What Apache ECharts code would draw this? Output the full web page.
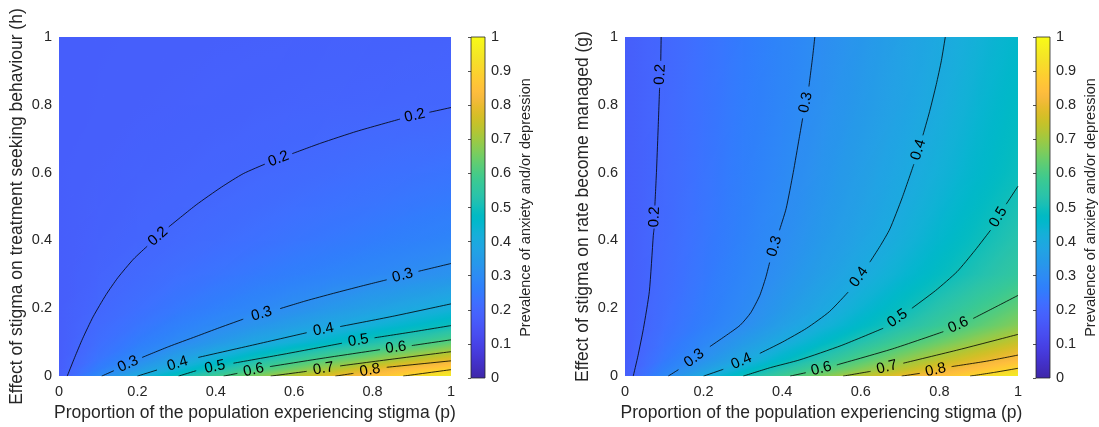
<!DOCTYPE html>
<html>
<head>
<meta charset="utf-8">
<script src="https://cdn.jsdelivr.net/npm/echarts@6/dist/echarts.min.js"></script>
<style>
  html, body { margin: 0; padding: 0; background: #fff; }
  #chart { width: 1099px; height: 427px; }
</style>
</head>
<body>
<div id="chart"></div>
<script>
// sample grid (p across, h or g up)
const pValues = [0, 0.1, 0.2, 0.3, 0.4, 0.5, 0.6, 0.7, 0.8, 0.9, 1];
const yValues = [0, 0.02, 0.05, 0.1, 0.15, 0.2, 0.3, 0.4, 0.5, 0.6, 0.8, 1];

// prevalence, left panel (rows = h)
const prevalenceH = [
    [0.176, 0.290, 0.400, 0.495, 0.583, 0.664, 0.732, 0.792, 0.851, 0.913, 0.960],
    [0.176, 0.259, 0.344, 0.430, 0.511, 0.589, 0.655, 0.721, 0.790, 0.849, 0.898],
    [0.176, 0.236, 0.294, 0.365, 0.435, 0.501, 0.563, 0.621, 0.673, 0.726, 0.780],
    [0.176, 0.218, 0.256, 0.294, 0.338, 0.383, 0.427, 0.470, 0.516, 0.568, 0.620],
    [0.176, 0.208, 0.236, 0.265, 0.293, 0.325, 0.357, 0.390, 0.424, 0.459, 0.493],
    [0.176, 0.201, 0.222, 0.244, 0.265, 0.287, 0.310, 0.337, 0.365, 0.392, 0.419],
    [0.176, 0.192, 0.207, 0.221, 0.234, 0.248, 0.262, 0.276, 0.290, 0.305, 0.322],
    [0.176, 0.186, 0.196, 0.205, 0.215, 0.225, 0.236, 0.247, 0.257, 0.268, 0.280],
    [0.176, 0.183, 0.190, 0.196, 0.204, 0.212, 0.221, 0.229, 0.237, 0.246, 0.255],
    [0.176, 0.181, 0.186, 0.190, 0.195, 0.201, 0.208, 0.215, 0.222, 0.228, 0.235],
    [0.176, 0.178, 0.180, 0.182, 0.185, 0.187, 0.190, 0.192, 0.194, 0.197, 0.199],
    [0.176, 0.177, 0.178, 0.179, 0.180, 0.181, 0.182, 0.183, 0.184, 0.185, 0.186]
];

// prevalence, right panel (rows = g)
const prevalenceG = [
    [0.176, 0.290, 0.400, 0.495, 0.583, 0.664, 0.732, 0.792, 0.851, 0.913, 0.960],
    [0.176, 0.268, 0.357, 0.445, 0.531, 0.606, 0.669, 0.731, 0.794, 0.853, 0.910],
    [0.176, 0.246, 0.315, 0.389, 0.463, 0.536, 0.606, 0.671, 0.729, 0.782, 0.834],
    [0.176, 0.231, 0.284, 0.342, 0.402, 0.463, 0.525, 0.588, 0.642, 0.695, 0.747],
    [0.176, 0.221, 0.262, 0.304, 0.360, 0.415, 0.467, 0.518, 0.571, 0.623, 0.672],
    [0.176, 0.217, 0.255, 0.292, 0.339, 0.388, 0.437, 0.485, 0.534, 0.583, 0.632],
    [0.176, 0.211, 0.245, 0.280, 0.316, 0.358, 0.399, 0.439, 0.480, 0.520, 0.560],
    [0.176, 0.208, 0.240, 0.272, 0.304, 0.341, 0.378, 0.415, 0.454, 0.493, 0.532],
    [0.176, 0.206, 0.236, 0.267, 0.297, 0.331, 0.365, 0.400, 0.437, 0.474, 0.511],
    [0.176, 0.205, 0.234, 0.263, 0.292, 0.324, 0.357, 0.390, 0.423, 0.458, 0.492],
    [0.176, 0.203, 0.230, 0.257, 0.283, 0.312, 0.342, 0.373, 0.404, 0.440, 0.475],
    [0.176, 0.2015, 0.227, 0.253, 0.279, 0.305, 0.333, 0.365, 0.395, 0.426, 0.457]
];

// contour lines [p, y], split where the inline labels sit
const contoursH = [
    { level: 0.2, segments: [
        [[0.021, 0], [0.04, 0.055], [0.06, 0.11], [0.087, 0.175], [0.12, 0.24], [0.15, 0.29], [0.19, 0.345], [0.225, 0.383]],
        [[0.28, 0.44], [0.35, 0.505], [0.414, 0.557], [0.47, 0.597], [0.525, 0.625]],
        [[0.595, 0.656], [0.668, 0.687], [0.76, 0.722], [0.87, 0.758]],
        [[0.945, 0.778], [1, 0.792]]
    ] },
    { level: 0.3, segments: [
        [[0.109, 0], [0.14, 0.016]],
        [[0.212, 0.055], [0.28, 0.087], [0.35, 0.117], [0.41, 0.143], [0.47, 0.168]],
        [[0.564, 0.199], [0.63, 0.222], [0.7, 0.244], [0.77, 0.265], [0.836, 0.284]],
        [[0.917, 0.309], [1, 0.332]]
    ] },
    { level: 0.4, segments: [
        [[0.2, 0], [0.25, 0.018]],
        [[0.355, 0.055], [0.5, 0.093], [0.632, 0.128]],
        [[0.717, 0.146], [0.85, 0.176], [1, 0.213]]
    ] },
    { level: 0.5, segments: [
        [[0.305, 0], [0.35, 0.016]],
        [[0.445, 0.038], [0.58, 0.066], [0.722, 0.097]],
        [[0.805, 0.113], [0.9, 0.13], [1, 0.149]]
    ] },
    { level: 0.6, segments: [
        [[0.42, 0], [0.455, 0.008]],
        [[0.538, 0.028], [0.68, 0.054], [0.819, 0.078]],
        [[0.9, 0.09], [1, 0.107]]
    ] },
    { level: 0.7, segments: [
        [[0.54, 0], [0.632, 0.014]],
        [[0.717, 0.03], [0.85, 0.05], [1, 0.072]]
    ] },
    { level: 0.8, segments: [
        [[0.705, 0], [0.751, 0.008]],
        [[0.836, 0.026], [1, 0.045]]
    ] },
    { level: 0.9, segments: [
        [[0.878, 0], [1, 0.019]]
    ] }
];

const contoursG = [
    { level: 0.2, segments: [
        [[0.021, 0], [0.033, 0.06], [0.047, 0.141], [0.062, 0.25], [0.072, 0.414], [0.074, 0.435]],
        [[0.076, 0.503], [0.08, 0.6], [0.084, 0.72], [0.088, 0.85]],
        [[0.091, 0.93], [0.092, 1]]
    ] },
    { level: 0.3, segments: [
        [[0.11, 0], [0.136, 0.019]],
        [[0.216, 0.087], [0.255, 0.118], [0.293, 0.15], [0.32, 0.187], [0.343, 0.238], [0.358, 0.29], [0.368, 0.335]],
        [[0.393, 0.43], [0.41, 0.494], [0.428, 0.6], [0.443, 0.7], [0.452, 0.76]],
        [[0.468, 0.854], [0.478, 0.947], [0.483, 1]]
    ] },
    { level: 0.4, segments: [
        [[0.2, 0], [0.25, 0.02]],
        [[0.343, 0.067], [0.4, 0.1], [0.462, 0.141], [0.52, 0.19], [0.568, 0.248]],
        [[0.623, 0.336], [0.65, 0.385], [0.674, 0.434], [0.705, 0.525], [0.735, 0.625]],
        [[0.758, 0.71], [0.775, 0.78], [0.792, 0.86], [0.805, 0.93], [0.815, 1]]
    ] },
    { level: 0.5, segments: [
        [[0.301, 0], [0.37, 0.025], [0.445, 0.048], [0.55, 0.09], [0.657, 0.141]],
        [[0.73, 0.2], [0.79, 0.252], [0.845, 0.308], [0.89, 0.37], [0.93, 0.43]],
        [[0.97, 0.507], [1, 0.56]]
    ] },
    { level: 0.6, segments: [
        [[0.42, 0], [0.46, 0.01]],
        [[0.539, 0.033], [0.68, 0.08], [0.81, 0.131]],
        [[0.886, 0.17], [0.95, 0.208], [1, 0.238]]
    ] },
    { level: 0.7, segments: [
        [[0.555, 0], [0.625, 0.014]],
        [[0.708, 0.038], [0.85, 0.078], [1, 0.123]]
    ] },
    { level: 0.8, segments: [
        [[0.704, 0], [0.75, 0.008]],
        [[0.831, 0.028], [0.92, 0.044], [1, 0.062]]
    ] },
    { level: 0.9, segments: [
        [[0.878, 0], [0.94, 0.011], [1, 0.023]]
    ] }
];

const axisTicks = [0, 0.2, 0.4, 0.6, 0.8, 1];
const colorbarTicks = [0, 0.1, 0.2, 0.3, 0.4, 0.5, 0.6, 0.7, 0.8, 0.9, 1];
const colorbarRange = [0, 1];

const xTitle = 'Proportion of the population experiencing stigma (p)';
const yTitleH = 'Effect of stigma on treatment seeking behaviour (h)';
const yTitleG = 'Effect of stigma on rate become managed (g)';
const cbTitle = 'Prevalence of anxiety and/or depression';

// parula colormap
const parula = [
    [0.2422,0.1504,0.6603],[0.2504,0.1650,0.7076],[0.2578,0.1818,0.7511],[0.2647,0.1978,0.7952],
    [0.2706,0.2147,0.8364],[0.2751,0.2342,0.8710],[0.2783,0.2559,0.8991],[0.2803,0.2782,0.9221],
    [0.2813,0.3006,0.9414],[0.2810,0.3228,0.9579],[0.2795,0.3447,0.9717],[0.2760,0.3667,0.9829],
    [0.2699,0.3892,0.9906],[0.2602,0.4123,0.9952],[0.2440,0.4358,0.9988],[0.2206,0.4603,0.9973],
    [0.1963,0.4847,0.9892],[0.1834,0.5074,0.9798],[0.1786,0.5289,0.9682],[0.1764,0.5499,0.9520],
    [0.1687,0.5703,0.9359],[0.1540,0.5902,0.9218],[0.1460,0.6091,0.9079],[0.1380,0.6276,0.8973],
    [0.1248,0.6459,0.8883],[0.1113,0.6635,0.8763],[0.0952,0.6798,0.8598],[0.0689,0.6948,0.8394],
    [0.0297,0.7082,0.8163],[0.0036,0.7203,0.7917],[0.0067,0.7312,0.7660],[0.0433,0.7411,0.7394],
    [0.0964,0.7500,0.7120],[0.1408,0.7584,0.6842],[0.1717,0.7670,0.6554],[0.1938,0.7758,0.6251],
    [0.2161,0.7843,0.5923],[0.2470,0.7918,0.5567],[0.2906,0.7973,0.5188],[0.3406,0.8008,0.4789],
    [0.3909,0.8029,0.4354],[0.4456,0.8024,0.3909],[0.5044,0.7993,0.3480],[0.5616,0.7942,0.3045],
    [0.6174,0.7876,0.2612],[0.6720,0.7793,0.2227],[0.7242,0.7698,0.1910],[0.7738,0.7598,0.1646],
    [0.8203,0.7498,0.1535],[0.8634,0.7406,0.1596],[0.9035,0.7330,0.1774],[0.9393,0.7288,0.2100],
    [0.9728,0.7298,0.2394],[0.9956,0.7434,0.2371],[0.9970,0.7659,0.2199],[0.9952,0.7893,0.2028],
    [0.9892,0.8136,0.1885],[0.9786,0.8386,0.1766],[0.9676,0.8639,0.1643],[0.9610,0.8890,0.1537],
    [0.9597,0.9135,0.1423],[0.9628,0.9373,0.1265],[0.9691,0.9606,0.1064],[0.9769,0.9839,0.0805]
];

const FONT = '"Liberation Sans", Arial, Helvetica, sans-serif';
const TEXT = '#262626';

function colorAt(v) {
    const t = Math.min(1, Math.max(0, v)) * (parula.length - 1);
    const i = Math.min(parula.length - 2, Math.floor(t));
    const f = t - i;
    const c = [0, 1, 2].map(k => Math.round(255 * (parula[i][k] + (parula[i + 1][k] - parula[i][k]) * f)));
    return 'rgb(' + c.join(',') + ')';
}

// fill a triangle so colour varies linearly between its three corners
function triangleFill(pts, vals) {
    const vmin = Math.min(...vals), vmax = Math.max(...vals);
    if (vmax - vmin < 1e-4) return colorAt((vmin + vmax) / 2);
    const d1x = pts[1][0] - pts[0][0], d1y = pts[1][1] - pts[0][1];
    const d2x = pts[2][0] - pts[0][0], d2y = pts[2][1] - pts[0][1];
    const det = d1x * d2y - d1y * d2x;
    if (Math.abs(det) < 1e-9) return colorAt((vmin + vmax) / 2);
    const dv1 = vals[1] - vals[0], dv2 = vals[2] - vals[0];
    const a = (dv1 * d2y - d1y * dv2) / det;
    const b = (d1x * dv2 - dv1 * d2x) / det;
    const g2 = a * a + b * b;
    const sx = pts[0][0] + (vmin - vals[0]) * a / g2, sy = pts[0][1] + (vmin - vals[0]) * b / g2;
    const ex = pts[0][0] + (vmax - vals[0]) * a / g2, ey = pts[0][1] + (vmax - vals[0]) * b / g2;
    const n = Math.max(3, Math.ceil((vmax - vmin) * 126) + 1);
    const stops = [];
    for (let k = 0; k <= n; k++) {
        stops.push({ offset: k / n, color: colorAt(vmin + (vmax - vmin) * k / n) });
    }
    return new echarts.graphic.LinearGradient(sx, sy, ex, ey, stops, true);
}

function cellData(field) {
    const out = [];
    for (let j = 0; j < yValues.length - 1; j++) {
        for (let i = 0; i < pValues.length - 1; i++) {
            out.push([pValues[i], yValues[j], pValues[i + 1], yValues[j + 1],
                field[j][i], field[j][i + 1], field[j + 1][i], field[j + 1][i + 1]]);
        }
    }
    return out;
}

function renderCell(params, api) {
    const p00 = api.coord([api.value(0), api.value(1)]);
    const p11 = api.coord([api.value(2), api.value(3)]);
    const p10 = [p11[0], p00[1]];
    const p01 = [p00[0], p11[1]];
    const v00 = api.value(4), v10 = api.value(5), v01 = api.value(6), v11 = api.value(7);
    const fa = triangleFill([p00, p10, p11], [v00, v10, v11]);
    const fb = triangleFill([p00, p11, p01], [v00, v11, v01]);
    return {
        type: 'group',
        children: [
            { type: 'polygon', shape: { points: [p00, p10, p11] }, style: { fill: fa, stroke: fa, lineWidth: 1.5, lineJoin: 'round' } },
            { type: 'polygon', shape: { points: [p00, p11, p01] }, style: { fill: fb, stroke: fb, lineWidth: 1.5, lineJoin: 'round' } }
        ]
    };
}

function renderLabel(params, api) {
    const a = api.coord([api.value(0), api.value(1)]);
    const b = api.coord([api.value(2), api.value(3)]);
    let ang = Math.atan2(a[1] - b[1], b[0] - a[0]);
    if (ang > Math.PI / 2) ang -= Math.PI;
    if (ang < -Math.PI / 2) ang += Math.PI;
    return {
        type: 'text',
        x: (a[0] + b[0]) / 2,
        y: (a[1] + b[1]) / 2,
        rotation: ang,
        style: {
            text: String(api.value(4)),
            fontSize: 15,
            fontFamily: FONT,
            fill: '#000',
            align: 'center',
            verticalAlign: 'middle'
        }
    };
}

function renderColorbar(params, api) {
    const top = api.coord([0, api.value(1)]);
    const bottom = api.coord([1, api.value(0)]);
    const stops = parula.map((c, k) => ({ offset: k / (parula.length - 1), color: colorAt(k / (parula.length - 1)) }));
    return {
        type: 'rect',
        shape: { x: top[0], y: top[1], width: bottom[0] - top[0], height: bottom[1] - top[1] },
        style: {
            fill: new echarts.graphic.LinearGradient(0, bottom[1], 0, top[1], stops, true),
            stroke: TEXT,
            lineWidth: 0.8
        }
    };
}

function mainX(grid) {
    return {
        gridIndex: grid, type: 'value', min: 0, max: 1,
        axisLine: { show: false }, axisTick: { show: false }, splitLine: { show: false },
        axisLabel: { customValues: axisTicks, formatter: v => String(v), fontSize: 14.5, color: TEXT, fontFamily: FONT, margin: 8 },
        name: xTitle, nameLocation: 'middle', nameGap: 27,
        nameTextStyle: { fontSize: 17.5, color: TEXT, fontFamily: FONT }
    };
}

function mainY(grid, title) {
    return {
        gridIndex: grid, type: 'value', min: 0, max: 1,
        axisLine: { show: false }, axisTick: { show: false }, splitLine: { show: false },
        axisLabel: { customValues: axisTicks, formatter: v => String(v), fontSize: 14.5, color: TEXT, fontFamily: FONT, margin: 7 },
        name: title, nameLocation: 'middle', nameRotate: 90, nameGap: 33,
        nameTextStyle: { fontSize: 17.5, color: TEXT, fontFamily: FONT }
    };
}

function cbX(grid) {
    return { gridIndex: grid, type: 'value', min: 0, max: 1, show: false };
}

function cbY(grid) {
    return {
        gridIndex: grid, type: 'value', min: colorbarRange[0], max: colorbarRange[1], interval: 0.1,
        position: 'right', z: 5,
        axisLine: { show: false }, splitLine: { show: false },
        axisTick: { show: true, inside: true, length: 3, customValues: colorbarTicks, lineStyle: { color: TEXT, width: 0.8 } },
        axisLabel: { customValues: colorbarTicks, formatter: v => String(v), fontSize: 14.5, color: TEXT, fontFamily: FONT, margin: 6 },
        name: cbTitle, nameLocation: 'middle', nameRotate: 90, nameGap: 33,
        nameTextStyle: { fontSize: 14.5, color: TEXT, fontFamily: FONT }
    };
}

function contourSeries(contours, axis) {
    const out = [];
    const labels = [];
    contours.forEach(c => {
        c.segments.forEach((seg, k) => {
            out.push({
                type: 'line', xAxisIndex: axis, yAxisIndex: axis, data: seg,
                symbol: 'none', silent: true, z: 3, smooth: 0.2,
                lineStyle: { color: '#000', width: 0.8 }
            });
            if (k < c.segments.length - 1) {
                const end = seg[seg.length - 1];
                const next = c.segments[k + 1][0];
                labels.push([end[0], end[1], next[0], next[1], c.level]);
            }
        });
    });
    out.push({
        type: 'custom', xAxisIndex: axis, yAxisIndex: axis, data: labels,
        renderItem: renderLabel, silent: true, z: 4
    });
    return out;
}

const chart = echarts.init(document.getElementById('chart'), null, { renderer: 'canvas' });

const option = {
    animation: false,
    backgroundColor: '#fff',
    textStyle: { fontFamily: FONT },
    grid: [
        { left: 59, top: 37, width: 392, height: 341 },
        { left: 471, top: 37, width: 14, height: 341 },
        { left: 625, top: 37, width: 393, height: 341 },
        { left: 1036, top: 37, width: 16, height: 341 }
    ],
    xAxis: [mainX(0), cbX(1), mainX(2), cbX(3)],
    yAxis: [mainY(0, yTitleH), cbY(1), mainY(2, yTitleG), cbY(3)],
    series: [
        { type: 'custom', xAxisIndex: 0, yAxisIndex: 0, data: cellData(prevalenceH), renderItem: renderCell, silent: true, z: 1, clip: true },
        { type: 'custom', xAxisIndex: 2, yAxisIndex: 2, data: cellData(prevalenceG), renderItem: renderCell, silent: true, z: 1, clip: true },
        { type: 'custom', xAxisIndex: 1, yAxisIndex: 1, data: [colorbarRange], renderItem: renderColorbar, silent: true, z: 1 },
        { type: 'custom', xAxisIndex: 3, yAxisIndex: 3, data: [colorbarRange], renderItem: renderColorbar, silent: true, z: 1 }
    ]
        .concat(contourSeries(contoursH, 0))
        .concat(contourSeries(contoursG, 2))
};

chart.setOption(option);
</script>
</body>
</html>
